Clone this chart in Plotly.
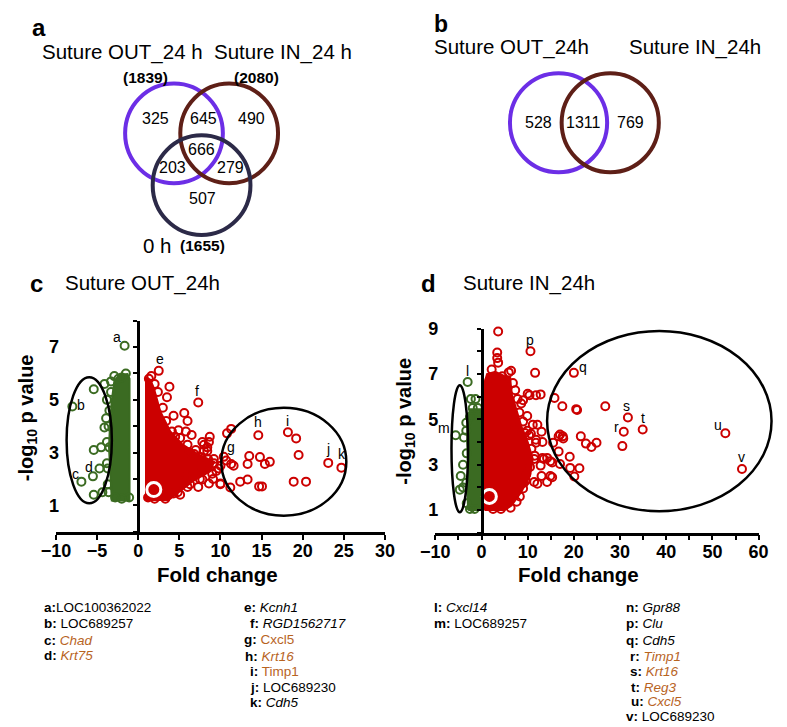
import plotly.graph_objects as go

W, H = 787, 727
OFF = 8  # the page body margin places the figure 8px from the top-left corner

# ---------------- DATA ----------------
venn3_titles = ["Suture OUT_24 h", "Suture IN_24 h", "0 h"]
venn3_totals = [1839, 2080, 1655]
venn3_regions = [325, 645, 490, 666, 203, 279, 507]  # OUT only, OUT&IN, IN only, all, OUT&0h, IN&0h, 0h only

venn2_titles = ["Suture OUT_24h", "Suture IN_24h"]
venn2_regions = [528, 1311, 769]

panel_c_title = "Suture OUT_24h"
panel_d_title = "Suture IN_24h"

# Panel c: down-regulated (green) outliers
c_down_x = [-1.65, -8.0, -6.9, -5.5, -5.4, -4.1, -4.1, -5.4, -4.5, -4.7, -5.4, -4.35, -3.5, -3.8, -3.7,
            -2.9, -2.4, -1.5, -3.8, -3.9, -3.3, -2.0,
            -3.6, -3.7, -3.8, -3.6, -3.5, -3.3, -1.1, -2.0, -2.8]
c_down_y = [7.05, 4.75, 1.9, 2.1, 5.4, 5.6, 3.95, 3.1, 3.2, 2.4, 1.4, 1.5, 3.2, 2.6, 1.8,
            5.9, 5.8, 6.0, 5.0, 4.3, 5.7, 5.85,
            1.5, 2.4, 3.4, 4.0, 4.6, 5.3, 1.3, 1.25, 1.3]
c_down_cloud_x = [-3.2, -3.4, -3.55, -3.4, -3.2, -2.9, -2.3, -1.3, -1.05, -1.05]
c_down_cloud_y = [1.15, 2.2, 3.2, 4.2, 5.0, 5.7, 5.95, 5.98, 5.8, 1.15]

# Panel c: up-regulated (red) outliers
c_up_x = [2.5, 1.3, 2.0, 3.8, 7.3, 3.5, 4.3, 5.6, 6.0, 4.9, 4.1, 5.8, 6.5, 5.1, 8.7, 8.0, 8.4, 6.2, 6.8, 7.6,
          9.2, 10.0, 7.8, 10.0, 8.6, 6.0, 5.1, 4.3, 3.1, 7.3, 5.8, 10.8, 11.3, 14.6, 18.2, 19.2, 19.5, 23.1,
          24.7, 13.5, 13.3, 14.8, 15.4, 16.0, 13.3, 12.4, 14.7, 15.05, 18.9, 20.4, 10.4, 10.7, 11.3, 11.6,
          11.2, 10.0, 9.1, 7.8, 8.6, 8.4, 9.2, 9.5, 9.0, 8.0, 7.8,
          1.6, 2.4, 3.0, 3.4, 4.5, 6.0, 7.0, 8.5, 9.8, 7.5, 6.3, 4.8, 3.3, 2.0, 1.2]
c_up_y = [6.1, 5.8, 5.6, 5.5, 4.9, 5.1, 4.4, 4.5, 4.2, 3.85, 3.8, 3.8, 3.67, 3.55, 3.6, 3.3, 3.2, 3.0, 2.95, 2.83,
          2.6, 2.5, 2.3, 1.83, 1.83, 1.7, 1.4, 1.45, 1.4, 1.7, 2.15, 3.73, 3.9, 3.66, 3.77, 3.54, 2.91, 2.61,
          2.43, 2.87, 2.57, 2.83, 2.57, 2.65, 1.98, 1.9, 1.72, 1.72, 1.9, 1.9, 2.84, 2.7, 2.57, 2.5,
          1.68, 1.8, 2.0, 1.98, 3.4, 3.06, 2.76, 2.3, 2.2, 3.06, 3.4,
          5.9, 5.3, 4.7, 4.2, 3.6, 3.3, 3.1, 2.75, 2.4, 2.0, 1.8, 1.5, 1.25, 1.25, 1.3]
c_up_cloud_x = [0.95, 0.95, 1.5, 1.9, 2.7, 3.9, 5.4, 7.2, 9.2, 8.8, 6.8, 5.3, 3.7, 0.95]
c_up_cloud_y = [1.2, 5.85, 5.75, 5.45, 4.55, 3.8, 3.3, 2.95, 2.65, 2.3, 1.95, 1.57, 1.2, 1.2]
c_highlight = ([1.9], [1.6])

c_label_text = ["a", "b", "c", "d", "e", "f", "g", "h", "i", "j", "k"]
c_label_x = [-2.6, -6.9, -7.65, -6.0, 2.6, 7.2, 11.3, 14.6, 18.2, 23.1, 24.8]
c_label_y = [7.4, 4.8, 2.2, 2.45, 6.55, 5.35, 3.2, 4.15, 4.2, 3.15, 2.95]

# Panel d
d_down_x = [-3.0, -5.6, -4.0, -4.5, -4.7, -4.0, -3.3, -3.8, -2.3, -1.3, -1.9, -0.8, -2.5,
            -3.2, -3.3, -3.2, -3.3, -1.5, -2.5]
d_down_y = [6.65, 4.3, 3.0, 2.5, 1.9, 2.0, 4.85, 4.2, 5.9, 5.9, 5.5, 5.5, 5.1,
            1.3, 2.2, 3.5, 4.5, 1.05, 1.05]
d_down_cloud_x = [-2.9, -3.1, -2.9, -3.1, -3.0, -2.5, -0.1, -0.1, -2.9]
d_down_cloud_y = [1.0, 2.0, 3.0, 4.0, 5.0, 5.45, 5.45, 1.0, 1.0]

d_up_x = [3.6, 10.6, 11.6, 3.4, 3.4, 3.6, 1.7, 5.9, 6.4, 7.3, 10.0, 9.0, 11.8, 9.9, 11.1, 12.1, 9.4, 11.8,
          13.2, 11.4, 12.8, 9.7, 11.4, 7.6, 9.0, 20.0, 10.4, 12.8, 15.8, 17.5, 20.5, 26.8, 13.0, 10.7,
          11.8, 15.5, 16.7, 17.7, 17.0, 21.5, 22.6, 23.8, 24.9, 16.7, 19.1, 19.2, 21.2, 20.1, 13.5,
          14.9, 15.3, 14.2, 12.1, 31.7, 34.9, 30.8, 30.5, 52.8, 56.4, 8.6, 7.3, 9.9, 13.2, 14.2, 15.3,
          14.9, 13.0, 9.2, 5.5, 17.0, 17.6, 20.7,
          2.2, 4.5, 6.8, 7.8, 8.2, 9.0, 10.3, 10.8, 11.5, 10.5, 9.6, 8.3, 6.3, 4.2, 2.5]
d_up_y = [8.87, 8.0, 7.05, 7.95, 7.7, 7.5, 6.7, 7.07, 7.14, 6.28, 6.13, 5.84, 6.06, 5.15, 4.76, 4.76, 4.4, 3.97,
          4.0, 3.25, 2.96, 2.6, 2.24, 1.37, 1.95, 7.05, 6.06, 6.1, 5.94, 5.58, 5.45, 5.58, 4.45, 4.36,
          4.1, 3.97, 4.25, 4.16, 4.33, 4.25, 3.93, 3.78, 3.97, 3.58, 3.35, 2.86, 2.84, 2.48, 3.25,
          3.15, 2.45, 2.24, 2.16, 5.08, 4.55, 4.45, 3.82, 4.39, 2.81, 5.7, 4.6, 4.5, 3.3, 3.3, 3.1,
          2.5, 2.5, 2.2, 1.3, 3.03, 4.25, 5.41,
          7.2, 6.9, 6.6, 5.9, 5.3, 4.9, 4.3, 3.7, 3.4, 2.9, 2.3, 1.6, 1.1, 1.05, 1.05]
d_up_cloud_x = [0.63, 0.63, 1.2, 3.0, 5.0, 6.2, 6.5, 7.5, 8.6, 10.0, 11.1, 10.5, 8.6, 6.5, 5.0, 0.63]
d_up_cloud_y = [1.0, 6.6, 7.0, 7.1, 6.9, 6.85, 6.15, 5.4, 4.7, 4.0, 3.25, 2.5, 1.8, 1.2, 1.0, 1.0]
d_highlight = ([1.7], [1.6])

d_label_text = ["l", "m", "n", "p", "q", "r", "s", "t", "u", "v"]
d_label_x = [-3.1, -8.1, 3.6, 10.6, 21.9, 29.2, 31.3, 34.9, 51.2, 56.3]
d_label_y = [7.15, 4.6, 9.35, 8.5, 7.3, 4.65, 5.58, 5.05, 4.76, 3.35]

c_xticks = [-10, -5, 0, 5, 10, 15, 20, 25, 30]
c_yticks = [1, 3, 5, 7]
d_xticks = [-10, 0, 10, 20, 30, 40, 50, 60]
d_yticks = [1, 3, 5, 7, 9]

# legend lists: letter, gene, italic, orange
leg_c1 = [("a", "LOC100362022", 0, 0), ("b", "LOC689257", 0, 0), ("c", "Chad", 1, 1), ("d", "Krt75", 1, 1)]
leg_c2 = [("e", "Kcnh1", 1, 0), ("f", "RGD1562717", 1, 0), ("g", "Cxcl5", 0, 1), ("h", "Krt16", 1, 1),
          ("i", "Timp1", 0, 1), ("j", "LOC689230", 0, 0), ("k", "Cdh5", 1, 0)]
leg_d1 = [("l", "Cxcl14", 1, 0), ("m", "LOC689257", 0, 0)]
leg_d2 = [("n", "Gpr88", 1, 0), ("p", "Clu", 1, 0), ("q", "Cdh5", 1, 0), ("r", "Timp1", 1, 1),
          ("s", "Krt16", 1, 1), ("t", "Reg3", 1, 1), ("u", "Cxcl5", 1, 1), ("v", "LOC689230", 0, 0)]

# ---------------- STYLE ----------------
FONT = "Liberation Sans, Arial, sans-serif"
PURPLE = "#6c2ee6"
BROWN = "#5e1f17"
NAVY = "#2c2a48"
GREEN = "#3b6b22"
RED = "#cc0000"
ORANGE = "#b8641f"

FW, FH = W - OFF, H - OFF

def PX(px):
    return (px - OFF) / FW

def PY(py):
    return 1 - (py - OFF) / FH

# axis geometry (page pixels)
c_dom_x = (42, 382); c_rng_x = (-10, 30)
c_dom_y = (529, 315); c_rng_y = (0, 8)
d_dom_x = (434, 768); d_rng_x = (-10, 60)
d_dom_y = (530, 323); d_rng_y = (0, 9)

def zero_pos(dom, rng):
    return PX(dom[0] + (0 - rng[0]) / (rng[1] - rng[0]) * (dom[1] - dom[0]))

def d_to_paper(x, y):
    px = d_dom_x[0] + (x - d_rng_x[0]) / (d_rng_x[1] - d_rng_x[0]) * (d_dom_x[1] - d_dom_x[0])
    py = d_dom_y[0] + (y - d_rng_y[0]) / (d_rng_y[1] - d_rng_y[0]) * (d_dom_y[1] - d_dom_y[0])
    return PX(px), PY(py)

fig = go.Figure()

def cloud(x, y, color, xa, ya):
    fig.add_trace(go.Scatter(x=x, y=y, mode="lines", fill="toself", fillcolor=color,
                             line=dict(color=color, width=2), xaxis=xa, yaxis=ya,
                             hoverinfo="skip"))

def pts(x, y, color, xa, ya, size=8, lw=2):
    fig.add_trace(go.Scatter(x=x, y=y, mode="markers", xaxis=xa, yaxis=ya, cliponaxis=False,
                             marker=dict(symbol="circle-open", size=size, color=color,
                                         line=dict(width=lw, color=color))))

cloud(c_down_cloud_x, c_down_cloud_y, GREEN, "x", "y")
cloud(c_up_cloud_x, c_up_cloud_y, RED, "x", "y")
pts(c_down_x, c_down_y, GREEN, "x", "y")
pts(c_up_x, c_up_y, RED, "x", "y")
pts(c_highlight[0], c_highlight[1], "white", "x", "y3", size=14, lw=3)

cloud(d_down_cloud_x, d_down_cloud_y, GREEN, "x2", "y2")
cloud(d_up_cloud_x, d_up_cloud_y, RED, "x2", "y2")
pts(d_down_x, d_down_y, GREEN, "x2", "y2")
pts(d_up_x, d_up_y, RED, "x2", "y2")
pts(d_highlight[0], d_highlight[1], "white", "x2", "y4", size=14, lw=3)

tickfont = dict(family=FONT, size=18, color="black", weight="bold")
xcommon = dict(showline=True, linewidth=2.5, linecolor="black", ticks="outside", ticklen=5,
               tickwidth=2, tickcolor="black", showgrid=False, zeroline=False, tickfont=tickfont,
               ticklabelstandoff=-4)
yline = dict(showline=True, linewidth=2.5, linecolor="black", ticks="outside", ticklen=4,
             tickwidth=2, tickcolor="black", showgrid=False, zeroline=False, showticklabels=False,
             dtick=1, tick0=0)
ylab = dict(showline=False, ticks="", showgrid=False, zeroline=False, tickfont=tickfont,
            ticklabelstandoff=-4)

fig.update_layout(
    width=FW, height=FH, margin=dict(l=0, r=0, t=0, b=0),
    paper_bgcolor="white", plot_bgcolor="white", showlegend=False,
    xaxis=dict(domain=[PX(c_dom_x[0]), PX(c_dom_x[1])], range=list(c_rng_x), anchor="y",
               tickvals=c_xticks, **xcommon),
    yaxis=dict(domain=[PY(c_dom_y[0]), PY(c_dom_y[1])], range=list(c_rng_y), anchor="free",
               position=zero_pos(c_dom_x, c_rng_x), **yline),
    yaxis3=dict(range=list(c_rng_y), overlaying="y", anchor="x", side="left",
                tickvals=c_yticks, **ylab),
    xaxis2=dict(domain=[PX(d_dom_x[0]), PX(d_dom_x[1])], range=list(d_rng_x), anchor="y2",
                tickvals=d_xticks,
                minor=dict(dtick=5, tick0=0, ticks="outside", ticklen=5, tickwidth=2, tickcolor="black"),
                **xcommon),
    yaxis2=dict(domain=[PY(d_dom_y[0]), PY(d_dom_y[1])], range=list(d_rng_y), anchor="free",
                position=zero_pos(d_dom_x, d_rng_x), **yline),
    yaxis4=dict(range=list(d_rng_y), overlaying="y2", anchor="x2", side="left",
                tickvals=d_yticks, **ylab),
)

shapes = []
# Venn a
for (cx, cy), col in zip([(164, 125), (221, 125), (192.5, 177.5)], [PURPLE, BROWN, NAVY]):
    r = 50.5
    shapes.append(dict(type="circle", xref="paper", yref="paper", x0=PX(cx - r), x1=PX(cx + r),
                       y0=PY(cy + r), y1=PY(cy - r), line=dict(color=col, width=4)))
# Venn b
for (cx, cy), col in zip([(561.3, 114.2), (614.7, 114.2)], [PURPLE, BROWN]):
    r = 50.2
    shapes.append(dict(type="circle", xref="paper", yref="paper", x0=PX(cx - r), x1=PX(cx + r),
                       y0=PY(cy + r), y1=PY(cy - r), line=dict(color=col, width=4)))
# ellipses in c
for x0, x1, y0, y1 in [(-8.7, -3.2, 1.08, 5.86), (10.1, 25.3, 0.61, 4.7)]:
    shapes.append(dict(type="circle", xref="x", yref="y", x0=x0, x1=x1, y0=y0, y1=y1,
                       line=dict(color="black", width=2.5)))
# ellipses in d
shapes.append(dict(type="circle", xref="x2", yref="y2", x0=-6.5, x1=-2.9, y0=0.9, y1=6.5,
                   line=dict(color="black", width=2.5)))
ex0, ey0 = d_to_paper(14.2, 0.95)
ex1, ey1 = d_to_paper(62.8, 8.9)
shapes.append(dict(type="circle", xref="paper", yref="paper", x0=ex0, x1=ex1, y0=ey0, y1=ey1,
                   line=dict(color="black", width=2.5)))
fig.update_layout(shapes=shapes)

ann = []

def txt(px, py, text, size, bold=False, xanchor="center", angle=0, color="black"):
    ann.append(dict(x=PX(px), y=PY(py), xref="paper", yref="paper", text=text, showarrow=False,
                    xanchor=xanchor, yanchor="middle", textangle=angle, borderpad=0,
                    font=dict(family=FONT, size=size, color=color, weight="bold" if bold else "normal")))

# panel letters
txt(25, 18, "a", 24, True)
txt(440, 14, "b", 23, True)
txt(22, 277, "c", 24, True)
txt(427, 277, "d", 24, True)

# Venn a texts
txt(26.7, 42, venn3_titles[0], 20.5, xanchor="left")
txt(204, 42, venn3_titles[1], 20.5, xanchor="left")
txt(146.7, 238.5, venn3_titles[2], 20.5)
txt(135, 68.5, f"({venn3_totals[0]})", 15.5, True)
txt(249.3, 68.5, f"({venn3_totals[1]})", 15.5, True)
txt(193, 238.5, f"({venn3_totals[2]})", 15.5, True)
for (px, py), v in zip([(145, 110), (195, 110), (244.3, 110), (192.3, 141.7), (162.3, 159.3),
                        (222.3, 159.3), (193.3, 190.7)], venn3_regions):
    txt(px, py, str(v), 16)

# Venn b texts
txt(432, 37, venn2_titles[0], 20.5, xanchor="left")
txt(633, 37, venn2_titles[1], 20.5, xanchor="left")
for (px, py), v in zip([(541, 114.3), (586.7, 114.3), (635.7, 114.3)], venn2_regions):
    txt(px, py, str(v), 16)

# volcano titles
txt(50, 277, panel_c_title, 20.5, xanchor="left")
txt(462, 277, panel_d_title, 20.5, xanchor="left")
txt(12, 413, "-log<sub>10</sub> p value", 20, True, angle=-90)
txt(403, 417, "-log<sub>10</sub> p value", 20, True, angle=-90)
txt(209, 572, "Fold change", 20.5, True)
txt(582, 572, "Fold change", 20.5, True)

# point labels
for t, x, y in zip(c_label_text, c_label_x, c_label_y):
    ann.append(dict(x=x, y=y, xref="x", yref="y", text=t, showarrow=False,
                    font=dict(family=FONT, size=14, color="black")))
for t, x, y in zip(d_label_text, d_label_x, d_label_y):
    ann.append(dict(x=x, y=y, xref="x2", yref="y2", text=t, showarrow=False,
                    font=dict(family=FONT, size=14, color="black")))

# gene legends
def leg_text(letter, gene, ital, orange):
    g = gene
    if orange:
        g = f"<span style='color:{ORANGE}'>{g}</span>"
    if ital:
        g = f"<i>{g}</i>"
    sep = "" if letter == "a" else " "
    return f"<b>{letter}:</b>{sep}{g}"

def legend_col(entries, xs, ys):
    for (l, g, it, orng), px, py in zip(entries, xs, ys):
        txt(px, py, leg_text(l, g, it, orng), 13.5, xanchor="left")

legend_col(leg_c1, [29, 29, 29, 29], [606, 622.3, 639, 654.3])
legend_col(leg_c2, [235, 241, 235, 236, 241, 241, 242], [606, 622.3, 638.3, 656, 670.7, 686.7, 701.7])
legend_col(leg_d1, [432, 432], [606, 622.3])
legend_col(leg_d2, [630, 630, 630, 634, 634, 635, 635, 630],
           [606, 622.3, 639.3, 655.7, 670.7, 686.7, 701, 716.7])

fig.update_layout(annotations=ann)
fig.write_html("out.html")
